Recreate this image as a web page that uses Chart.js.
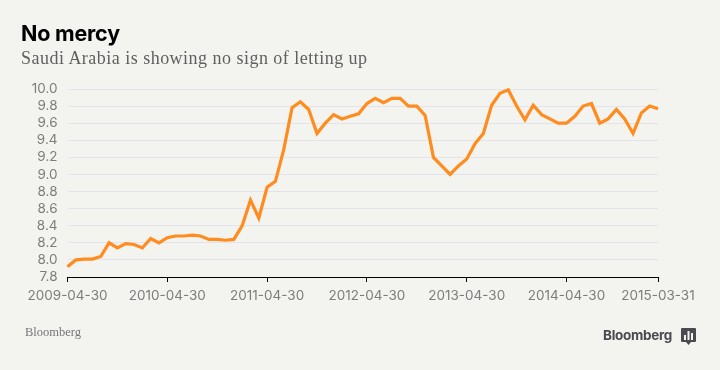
<!DOCTYPE html>
<html>
<head>
<meta charset="utf-8">
<script src="https://cdn.jsdelivr.net/npm/chart.js@4"></script>
<style>
    html, body { margin: 0; padding: 0; background: #f3f3ef; }
    #wrap { position: relative; width: 720px; height: 370px; overflow: hidden; }
    #grafica { position: absolute; left: 0; top: 0; }
    .txt { position: absolute; white-space: nowrap; }
    #titulo { left: 21px; top: 20px; font: bold 21.5px Inter, sans-serif; color: #000; letter-spacing: -0.2px; }
    #subtitulo { left: 21px; top: 48px; font: 18px "Liberation Serif", serif; color: #5f5f5f; letter-spacing: 0.48px; }
    #fuente { left: 25px; top: 325px; font: 12.500px "Liberation Serif", serif; color: #77777a; }
    #marca { left: 603px; top: 327px; font: bold 13.500px Inter, sans-serif; color: #4a4a50; letter-spacing: -0.3px; }
    #logo { position: absolute; left: 681px; top: 328px; }
</style>
</head>
<body>
<div id="wrap">
    <canvas id="grafica" width="720" height="370"></canvas>
    <div class="txt" id="titulo">No mercy</div>
    <div class="txt" id="subtitulo">Saudi Arabia is showing no sign of letting up</div>
    <div class="txt" id="fuente">Bloomberg</div>
    <div class="txt" id="marca">Bloomberg</div>
    <svg id="logo" width="15" height="17" viewBox="0 0 15 17">
        <path d="M1 0h13a1 1 0 0 1 1 1v12a1 1 0 0 1-1 1h-4l-2.500 3-2.500-3h-4a1 1 0 0 1-1-1v-12a1 1 0 0 1 1-1z" fill="#4a4a50"/>
        <path d="M3 7h2v5h-2zM6.500 3h2v9h-2zM10 5h2v7h-2z" fill="#f3f3ef"/>
    </svg>
</div>
<script>
const fechas = [
    '2009-04-30','2009-05-29','2009-06-30','2009-07-31','2009-08-31','2009-09-30','2009-10-30','2009-11-30','2009-12-31',
    '2010-01-29','2010-02-26','2010-03-31','2010-04-30','2010-05-31','2010-06-30','2010-07-30','2010-08-31','2010-09-30','2010-10-29','2010-11-30','2010-12-31',
    '2011-01-31','2011-02-28','2011-03-31','2011-04-30','2011-05-31','2011-06-30','2011-07-29','2011-08-31','2011-09-30','2011-10-31','2011-11-30','2011-12-30',
    '2012-01-31','2012-02-29','2012-03-30','2012-04-30','2012-05-31','2012-06-29','2012-07-31','2012-08-31','2012-09-28','2012-10-31','2012-11-30','2012-12-31',
    '2013-01-31','2013-02-28','2013-03-29','2013-04-30','2013-05-31','2013-06-28','2013-07-31','2013-08-30','2013-09-30','2013-10-31','2013-11-29','2013-12-31',
    '2014-01-31','2014-02-28','2014-03-31','2014-04-30','2014-05-30','2014-06-30','2014-07-31','2014-08-29','2014-09-30','2014-10-31','2014-11-28','2014-12-31',
    '2015-01-30','2015-02-27','2015-03-31'
];

const produccion = [
    7.92, 8.00, 8.01, 8.01, 8.04, 8.20, 8.14, 8.19, 8.18,
    8.14, 8.25, 8.20, 8.26, 8.28, 8.28, 8.29, 8.28, 8.24, 8.24, 8.23, 8.24,
    8.40, 8.70, 8.49, 8.85, 8.92, 9.29, 9.78, 9.85, 9.76, 9.48, 9.60, 9.70,
    9.65, 9.68, 9.71, 9.83, 9.89, 9.84, 9.89, 9.89, 9.80, 9.80, 9.69, 9.20,
    9.10, 9.00, 9.10, 9.18, 9.36, 9.48, 9.81, 9.95, 9.99, 9.80, 9.64, 9.81,
    9.70, 9.65, 9.60, 9.60, 9.68, 9.80, 9.83, 9.60, 9.65, 9.76, 9.65, 9.48,
    9.72, 9.80, 9.77
];

const etiquetasX = ['2009-04-30', '2010-04-30', '2011-04-30', '2012-04-30', '2013-04-30', '2014-04-30', '2015-03-31'];

Chart.defaults.font.family = 'Inter, sans-serif';

new Chart(document.getElementById("grafica"), {
    type: 'line',
    data: {
        labels: fechas,
        datasets: [{
            data: produccion,
            borderColor: '#ff8c1f',
            borderWidth: 3.2,
            tension: 0,
            pointRadius: 0,
            borderJoinStyle: 'miter',
            clip: false
        }]
    },
    options: {
        responsive: false,
        animation: false,
        layout: { padding: { top: 89, right: 62, bottom: 0, left: 0 } },
        plugins: {
            legend: { display: false },
            title: { display: false },
            tooltip: { enabled: false }
        },
        scales: {
            x: {
                afterBuildTicks: axis => {
                    // solo las fechas con etiqueta llevan marca
                    axis.ticks = axis.ticks.filter(t => etiquetasX.includes(fechas[t.value]));
                },
                afterFit: axis => { axis.height = 93; },
                border: { color: '#000', width: 1 },
                grid: { drawOnChartArea: false, drawTicks: true, tickLength: 5, tickColor: '#000', tickWidth: 1 },
                ticks: {
                    autoSkip: false,
                    maxRotation: 0,
                    padding: 6,
                    color: '#7d7d7d',
                    font: { size: 13.5 },
                    callback: function (value) { return this.getLabelForValue(value); }
                }
            },
            y: {
                min: 7.8,
                max: 10,
                afterFit: axis => { axis.width = 67.5; },
                border: { display: false },
                grid: { color: '#e3e3e9', lineWidth: 1, drawTicks: false },
                ticks: {
                    autoSkip: false,
                    stepSize: 0.2,
                    padding: 10,
                    color: '#7d7d7d',
                    font: { size: 13.5 },
                    callback: value => value.toFixed(1)
                }
            }
        }
    }
});
</script>
</body>
</html>
